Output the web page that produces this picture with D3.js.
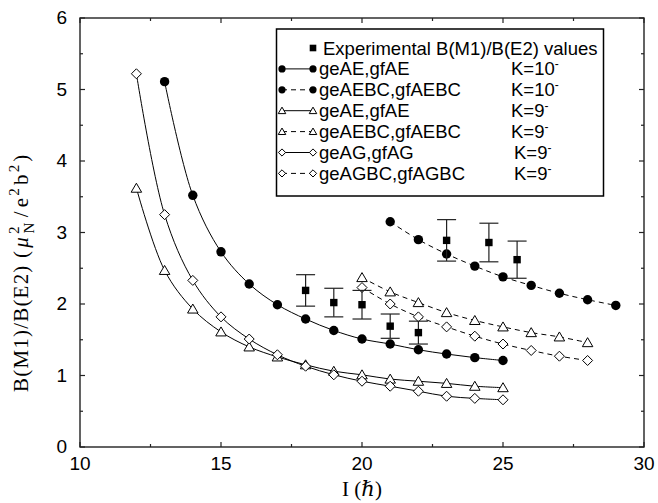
<!DOCTYPE html>
<html>
<head>
<meta charset="utf-8">
<script src="https://cdn.jsdelivr.net/npm/d3@7"></script>
<style>
  html, body { margin: 0; padding: 0; background: #fff; }
  svg { display: block; }
  .tick-label { font-family: "Liberation Sans", Arial, sans-serif; font-size: 19px; fill: #000; }
  .legend-text { font-family: "Liberation Sans", Arial, sans-serif; font-size: 18.5px; fill: #000; }
  .axis-title { font-family: "Liberation Serif", "DejaVu Serif", serif; font-size: 21px; fill: #000; }
</style>
</head>
<body>
<svg id="chart" width="658" height="503"></svg>
<script>
// B(M1)/B(E2) ratio vs spin - D3 v7 recreation

// -----------------------------------------------------------------------------
// DATA
// -----------------------------------------------------------------------------

const spinAE10 = [13, 14, 15, 16, 17, 18, 19, 20, 21, 22, 23, 24, 25];
const geAE_K10 = [5.11, 3.52, 2.73, 2.28, 1.99, 1.79, 1.63, 1.51, 1.44, 1.36, 1.30, 1.25, 1.21];

const spinAEBC10 = [21, 22, 23, 24, 25, 26, 27, 28, 29];
const geAEBC_K10 = [3.15, 2.90, 2.70, 2.53, 2.38, 2.26, 2.15, 2.06, 1.98];

const spinAE9 = [12, 13, 14, 15, 16, 17, 18, 19, 20, 21, 22, 23, 24, 25];
const geAE_K9 = [3.62, 2.47, 1.93, 1.61, 1.40, 1.26, 1.15, 1.06, 1.01, 0.95, 0.92, 0.89, 0.85, 0.83];

const spinAEBC9 = [20, 21, 22, 23, 24, 25, 26, 27, 28];
const geAEBC_K9 = [2.37, 2.17, 2.02, 1.88, 1.77, 1.68, 1.60, 1.54, 1.46];

const spinAG9 = [12, 13, 14, 15, 16, 17, 18, 19, 20, 21, 22, 23, 24, 25];
const geAG_K9 = [5.22, 3.25, 2.33, 1.82, 1.51, 1.29, 1.13, 1.01, 0.92, 0.85, 0.78, 0.71, 0.68, 0.66];

const spinAGBC9 = [20, 21, 22, 23, 24, 25, 26, 27, 28];
const geAGBC_K9 = [2.23, 2.00, 1.82, 1.68, 1.55, 1.44, 1.35, 1.27, 1.21];

const expSpin = [18, 19, 20, 21, 22, 23, 24.5, 25.5];
const expValue = [2.19, 2.02, 1.99, 1.69, 1.60, 2.89, 2.86, 2.62];
const expError = [0.22, 0.20, 0.20, 0.17, 0.16, 0.29, 0.27, 0.26];

const xTicks = [10, 15, 20, 25, 30];
const yTicks = [0, 1, 2, 3, 4, 5, 6];

const SERIES = [
  { label: 'geAE,gfAE',     k: '10', xs: spinAE10,   ys: geAE_K10,   marker: 'circle',   dashed: false },
  { label: 'geAEBC,gfAEBC', k: '10', xs: spinAEBC10, ys: geAEBC_K10, marker: 'circle',   dashed: true },
  { label: 'geAE,gfAE',     k: '9',  xs: spinAE9,    ys: geAE_K9,    marker: 'triangle', dashed: false },
  { label: 'geAEBC,gfAEBC', k: '9',  xs: spinAEBC9,  ys: geAEBC_K9,  marker: 'triangle', dashed: true },
  { label: 'geAG,gfAG',     k: '9',  xs: spinAG9,    ys: geAG_K9,    marker: 'diamond',  dashed: false },
  { label: 'geAGBC,gfAGBC', k: '9',  xs: spinAGBC9,  ys: geAGBC_K9,  marker: 'diamond',  dashed: true }
];

// -----------------------------------------------------------------------------
// LAYOUT
// -----------------------------------------------------------------------------

const margin = { left: 80, top: 18, right: 14, bottom: 56 };
const W = 658, H = 503;
const svg = d3.select('#chart');

const x = d3.scaleLinear().domain([10, 30]).range([margin.left, W - margin.right]);
const y = d3.scaleLinear().domain([0, 6]).range([H - margin.bottom, margin.top]);

const AXIS_COLOR = '#222';

// markers
function drawMarker(g, type, cx, cy, s) {
  if (type === 'circle') {
    g.append('circle').attr('cx', cx).attr('cy', cy).attr('r', s)
      .attr('fill', '#000');
  } else if (type === 'triangle') {
    const h = s * 1.8, w = s * 1.05;
    g.append('path')
      .attr('d', `M${cx},${cy - h * 0.55}L${cx + w},${cy + h * 0.45}L${cx - w},${cy + h * 0.45}Z`)
      .attr('fill', '#fff').attr('stroke', '#000').attr('stroke-width', 1);
  } else if (type === 'diamond') {
    g.append('path')
      .attr('d', `M${cx},${cy - s}L${cx + s},${cy}L${cx},${cy + s}L${cx - s},${cy}Z`)
      .attr('fill', '#fff').attr('stroke', '#000').attr('stroke-width', 1);
  } else if (type === 'square') {
    g.append('rect').attr('x', cx - s).attr('y', cy - s)
      .attr('width', 2 * s).attr('height', 2 * s).attr('fill', '#000');
  }
}

const MARKER_SIZE = { circle: 4.7, triangle: 5, diamond: 5 };

// -----------------------------------------------------------------------------
// CURVES
// -----------------------------------------------------------------------------

const line = d3.line()
  .x(d => x(d[0]))
  .y(d => y(d[1]))
  .curve(d3.curveCatmullRom.alpha(0.5));

const gLines = svg.append('g');
const gMarks = svg.append('g');

SERIES.forEach(s => {
  const pts = s.xs.map((v, i) => [v, s.ys[i]]);
  gLines.append('path')
    .attr('d', line(pts))
    .attr('fill', 'none')
    .attr('stroke', '#000')
    .attr('stroke-width', 1)
    .attr('stroke-dasharray', s.dashed ? '5,4' : null);
  pts.forEach(p => drawMarker(gMarks, s.marker, x(p[0]), y(p[1]), MARKER_SIZE[s.marker]));
});

// experimental points with error bars
const gExp = svg.append('g');
expSpin.forEach((v, i) => {
  const cx = x(v);
  const top = y(expValue[i] + expError[i]);
  const bot = y(expValue[i] - expError[i]);
  gExp.append('line').attr('x1', cx).attr('x2', cx).attr('y1', top).attr('y2', bot)
    .attr('stroke', '#222').attr('stroke-width', 1.2);
  [top, bot].forEach(yy => {
    gExp.append('line').attr('x1', cx - 9.5).attr('x2', cx + 9.5).attr('y1', yy).attr('y2', yy)
      .attr('stroke', '#222').attr('stroke-width', 1.2);
  });
  drawMarker(gExp, 'square', cx, y(expValue[i]), 3.7);
});

// -----------------------------------------------------------------------------
// AXES / FRAME
// -----------------------------------------------------------------------------

const gAxes = svg.append('g');
const x0 = x.range()[0], x1 = x.range()[1];
const y0 = y.range()[0], y1 = y.range()[1];

gAxes.append('rect')
  .attr('x', x0).attr('y', y1).attr('width', x1 - x0).attr('height', y0 - y1)
  .attr('fill', 'none').attr('stroke', AXIS_COLOR).attr('stroke-width', 1.4);

const MAJOR = 5, MINOR = 3;
d3.range(10, 30.01, 2.5).forEach(v => {
  const len = v % 5 === 0 ? MAJOR : MINOR;
  gAxes.append('line').attr('x1', x(v)).attr('x2', x(v)).attr('y1', y0).attr('y2', y0 - len)
    .attr('stroke', AXIS_COLOR).attr('stroke-width', 1.2);
  gAxes.append('line').attr('x1', x(v)).attr('x2', x(v)).attr('y1', y1).attr('y2', y1 + len)
    .attr('stroke', AXIS_COLOR).attr('stroke-width', 1.2);
});
d3.range(0, 6.01, 0.5).forEach(v => {
  const len = v % 1 === 0 ? MAJOR : MINOR;
  gAxes.append('line').attr('x1', x0).attr('x2', x0 + len).attr('y1', y(v)).attr('y2', y(v))
    .attr('stroke', AXIS_COLOR).attr('stroke-width', 1.2);
  gAxes.append('line').attr('x1', x1).attr('x2', x1 - len).attr('y1', y(v)).attr('y2', y(v))
    .attr('stroke', AXIS_COLOR).attr('stroke-width', 1.2);
});

xTicks.forEach(v => {
  svg.append('text').attr('class', 'tick-label')
    .attr('x', x(v)).attr('y', y0 + 23).attr('text-anchor', 'middle').text(v);
});
yTicks.forEach(v => {
  svg.append('text').attr('class', 'tick-label')
    .attr('x', x0 - 13).attr('y', y(v) + 6).attr('text-anchor', 'end').text(v);
});

// axis titles
const xt = svg.append('text').attr('class', 'axis-title')
  .attr('x', (x0 + x1) / 2).attr('y', 496).attr('text-anchor', 'middle')
  .attr('font-size', 22);
xt.append('tspan').text('I (');
xt.append('tspan').attr('font-style', 'italic').text('\u210F');
xt.append('tspan').text(')');

const yt = svg.append('text').attr('class', 'axis-title')
  .attr('transform', 'translate(28,392) rotate(-90)')
  .attr('text-anchor', 'start')
  .attr('font-size', 22)
  .attr('letter-spacing', 1.2);
yt.append('tspan').text('B(M1)/B(E2) (');
yt.append('tspan').attr('font-style', 'italic').attr('dx', 2).text('\u03BC');
yt.append('tspan').attr('font-size', 15).attr('dx', 2).attr('dy', -9).text('2');
yt.append('tspan').attr('font-size', 15).attr('dx', -8).attr('dy', 15).text('N');
yt.append('tspan').attr('dx', 4).attr('dy', -6).text('/');
yt.append('tspan').attr('dx', 3).text('e');
yt.append('tspan').attr('font-size', 15).attr('dx', 1).attr('dy', -9).text('2');
yt.append('tspan').attr('dx', 2).attr('dy', 9).text('b');
yt.append('tspan').attr('font-size', 15).attr('dx', 1).attr('dy', -9).text('2');
yt.append('tspan').attr('dx', 2).attr('dy', 9).text(')');

// -----------------------------------------------------------------------------
// LEGEND
// -----------------------------------------------------------------------------

const leg = svg.append('g');
leg.append('rect')
  .attr('x', 276.5).attr('y', 29).attr('width', 327).attr('height', 167)
  .attr('fill', '#fff').attr('stroke', '#000').attr('stroke-width', 1.5);

const rowY = i => 48 + i * 20.9;
const LX0 = 282, LX1 = 313, TX = 319, KX = 511;

drawMarker(leg, 'square', LX1, rowY(0), 3.3);
leg.append('text').attr('class', 'legend-text')
  .attr('x', TX + 4).attr('y', rowY(0) + 6.5).text('Experimental B(M1)/B(E2) values');

const LEG_SIZE = { circle: 3.6, triangle: 3.6, diamond: 3.6 };
SERIES.forEach((s, i) => {
  const cy = rowY(i + 1);
  leg.append('line').attr('x1', LX0).attr('x2', LX1).attr('y1', cy).attr('y2', cy)
    .attr('stroke', '#000').attr('stroke-width', 1)
    .attr('stroke-dasharray', s.dashed ? '5,4' : null);
  drawMarker(leg, s.marker, LX0, cy, LEG_SIZE[s.marker]);
  drawMarker(leg, s.marker, LX1, cy, LEG_SIZE[s.marker]);
  leg.append('text').attr('class', 'legend-text')
    .attr('x', TX).attr('y', cy + 6.5).text(s.label);
  const kt = leg.append('text').attr('class', 'legend-text')
    .attr('x', KX + (s.k === '9' && s.marker === 'diamond' ? 3 : 0)).attr('y', cy + 6.5);
  kt.append('tspan').text('K=' + s.k);
  kt.append('tspan').attr('font-size', 12).attr('dy', -7).text('-');
});
</script>
</body>
</html>
